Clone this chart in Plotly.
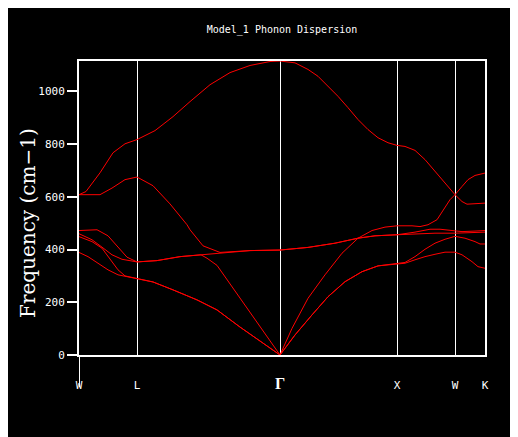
import plotly.graph_objects as go

# ---------------------------------------------------------------------------
# Data: phonon branches (k = path distance, w = cm^-1)
# ---------------------------------------------------------------------------

sym_k = [0, 58, 201, 318, 376, 406]
sym_labels = ["W", "L", "Γ", "X", "W", "K"]

k1 = [0, 9, 19, 29, 39, 58, 74, 94, 118, 138, 161, 201, 216, 233, 249, 266, 283,
      299, 318, 326, 336, 346, 356, 366, 376, 383, 393, 399, 406]
w1 = [389, 373, 348, 323, 304, 290, 277, 247, 209, 171, 106, 0, 76, 152, 221, 278,
      316, 338, 347, 348, 361, 373, 382, 390, 390, 380, 354, 335, 329]

k2 = [0, 13, 23, 29, 39, 46, 58, 74, 94, 118, 138, 161, 201, 216, 233, 249, 266,
      283, 299, 318, 326, 336, 346, 356, 366, 376, 386, 396, 401, 406]
w2 = [449, 430, 405, 373, 323, 300, 290, 277, 247, 209, 171, 106, 0, 76, 152, 221,
      278, 316, 338, 347, 351, 373, 401, 424, 439, 450, 443, 430, 421, 421]

k3 = [0, 13, 23, 33, 43, 58, 78, 101, 122, 128, 138, 201, 213, 229, 246, 263, 279,
      296, 318, 336, 356, 376, 386, 406]
w3 = [460, 437, 409, 380, 363, 353, 358, 373, 380, 367, 340, 0, 101, 215, 304, 386,
      443, 452, 456, 459, 462, 462, 464, 466]

k4 = [0, 18, 29, 39, 48, 58, 78, 101, 122, 141, 151, 171, 201, 229, 256, 279, 296,
      318, 336, 351, 361, 376, 383, 396, 406]
w4 = [472, 475, 452, 409, 371, 353, 358, 373, 380, 386, 392, 396, 398, 408, 424, 443,
      452, 456, 466, 477, 477, 472, 468, 470, 472]

k5 = [0, 21, 33, 46, 58, 74, 91, 108, 111, 124, 141, 151, 171, 201, 229, 256, 279,
      293, 306, 318, 333, 341, 349, 358, 364, 371, 376, 383, 388, 406]
w5 = [608, 608, 633, 665, 675, 642, 573, 494, 475, 414, 389, 392, 396, 398, 408, 424,
      443, 472, 485, 490, 490, 487, 494, 513, 548, 589, 608, 582, 572, 576]

k6 = [0, 7, 21, 34, 46, 58, 76, 94, 111, 131, 151, 171, 191, 201, 216, 229, 239, 249,
      259, 269, 279, 289, 299, 309, 318, 326, 336, 346, 356, 366, 376, 383, 389, 396, 406]
w6 = [608, 620, 691, 767, 801, 817, 851, 904, 961, 1025, 1071, 1098, 1113, 1115, 1108,
      1083, 1057, 1019, 981, 938, 893, 855, 824, 805, 795, 791, 776, 741, 696, 652, 608,
      639, 665, 681, 690]

branches = [(k1, w1), (k2, w2), (k3, w3), (k4, w4), (k5, w5), (k6, w6)]

# ---------------------------------------------------------------------------
# Figure
# ---------------------------------------------------------------------------

# the page body adds an 8px margin, so the figure is drawn 8px smaller
FIG_W, FIG_H = 510, 429

fig = go.Figure()
for i, (k, w) in enumerate(branches):
    fig.add_trace(go.Scatter(
        x=k, y=w, mode="lines",
        line=dict(color="#ff0000", width=1),
        showlegend=False, hoverinfo="skip", name=f"branch_{i + 1}",
    ))

tick_text = [
    lab if lab != "Γ" else
    '<span style="font-family:Liberation Serif;font-size:16px"><b>Γ</b></span>'
    for lab in sym_labels
]

# left axis line runs on below the frame, through the first label
fig.add_shape(type="line", xref="x", yref="paper", x0=0, x1=0, y0=0, y1=-0.11,
              line=dict(color="white", width=2))

# y title as an annotation: it sits a little below the plot's centre
fig.add_annotation(
    text="Frequency (cm−1)", textangle=-90, showarrow=False,
    xref="paper", yref="paper", x=-0.1256, y=0.449,
    xanchor="center", yanchor="middle",
    font=dict(family="DejaVu Serif", size=20, color="white"),
)

mono = dict(family="DejaVu Sans Mono", size=11, color="white")

fig.update_layout(
    width=FIG_W,
    height=FIG_H,
    paper_bgcolor="black",
    plot_bgcolor="black",
    margin=dict(l=71, r=33, t=53, b=82),
    title=dict(text="Model_1 Phonon Dispersion", font=dict(family="DejaVu Sans Mono",
               size=10, color="white"), x=0.5, xref="paper", xanchor="center",
               y=1 - 21 / FIG_H, yref="container", yanchor="middle"),
    xaxis=dict(
        range=[0, 406], tickvals=sym_k, ticktext=tick_text,
        showgrid=True, gridcolor="white", gridwidth=1, zeroline=False,
        showline=True, linecolor="white", linewidth=2, mirror=True,
        ticks="outside", ticklen=19, tickcolor="rgba(0,0,0,0)",
        tickfont=mono,
    ),
    yaxis=dict(
        range=[0, 1115], tickvals=[0, 200, 400, 600, 800, 1000],
        showgrid=False, zeroline=False,
        showline=True, linecolor="white", linewidth=2, mirror=True,
        ticks="outside", ticklen=10, tickwidth=2, tickcolor="white",
        tickfont=mono,
    ),
)

fig.write_html("out.html")
